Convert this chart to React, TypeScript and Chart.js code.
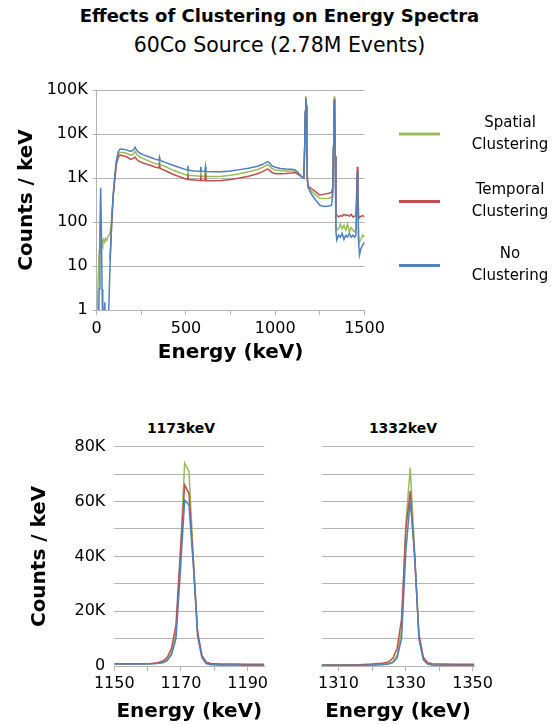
import { useEffect, useRef } from "react";
import { Chart, registerables } from "chart.js";

Chart.register(...registerables);

const FONT = "'DejaVu Sans', Verdana, sans-serif";
const GRID = "#b4b4b4";
const GREEN = "#9bbb59";
const RED = "#c0504d";
const BLUE = "#4f81bd";

const SERIES_NAMES = ["Spatial Clustering", "Temporal Clustering", "No Clustering"];
const LEGEND_LINES = [["Spatial", "Clustering"], ["Temporal", "Clustering"], ["No", "Clustering"]];

// ---------- full spectrum (top) ----------
const TOP_Y_TICKS = [1, 10, 100, 1000, 10000, 100000];
const TOP_X_TICKS = [0, 250, 500, 750, 1000, 1250, 1500];
const TOP_X_LABELS = [0, 500, 1000, 1500];

const E_TOP = [
  0, 5, 10, 14, 18, 22, 26, 30, 34, 40, 45, 50, 56, 62, 68, 74, 80, 86, 92, 100,
  110, 120, 130, 150, 170, 190, 205, 215, 225, 240, 260, 280, 300, 330, 348, 352, 356, 380, 420, 460,
  500, 508, 511, 514, 550, 580, 583, 586, 606, 609, 612, 650, 700, 750, 800, 850, 900, 930, 955, 965,
  980, 1000, 1030, 1060, 1090, 1110, 1130, 1150, 1160, 1165, 1168, 1171, 1174, 1177, 1180, 1185, 1200, 1225, 1250, 1275,
  1300, 1315, 1322, 1326, 1329, 1331, 1333, 1336, 1340, 1345, 1355, 1365, 1375, 1385, 1395, 1405, 1415, 1425, 1435, 1445,
  1452, 1457, 1460, 1463, 1467, 1472, 1480, 1490, 1500,
];
const SPATIAL_TOP = [
  0.5, 2, 8, 22, 30, 34, 28, 38, 32, 40, 35, 42, 38, 45, 50, 55, 80, 160, 380, 900,
  2200, 3400, 3800, 3800, 3600, 3300, 3500, 4000, 3400, 3000, 2750, 2550, 2350, 2100, 2050, 2400, 2000, 1850, 1550, 1350,
  1180, 1160, 1450, 1150, 1120, 1100, 1400, 1100, 1090, 1400, 1080, 1080, 1100, 1150, 1250, 1380, 1550, 1750, 2000, 1950,
  1650, 1520, 1480, 1450, 1450, 1450, 1250, 1050, 1000, 5500, 34000, 74000, 48000, 6000, 950, 630, 510, 420, 345, 340,
  345, 360, 500, 5200, 36000, 72000, 45000, 3200, 90, 66, 70, 90, 70, 85, 65, 90, 60, 75, 65, 60,
  70, 400, 1500, 400, 45, 35, 40, 50, 45,
];
const TEMPORAL_TOP = [
  null, null, null, null, null, null, null, null, null, null, null, null, null, null, null, 14, 40, 130, 350, 800,
  2000, 2900, 3300, 3200, 3000, 2650, 2800, 3000, 2600, 2350, 2200, 2050, 1950, 1750, 1700, 2000, 1650, 1500, 1250, 1080,
  950, 930, 1200, 920, 900, 880, 1150, 880, 875, 1150, 870, 870, 880, 920, 1000, 1100, 1250, 1400, 1600, 1550,
  1350, 1250, 1250, 1270, 1300, 1330, 1200, 1050, 1000, 5200, 32000, 66000, 44000, 5500, 950, 650, 585, 490, 410, 430,
  450, 470, 600, 5100, 33000, 63000, 42000, 3100, 160, 145, 130, 140, 135, 150, 140, 145, 135, 150, 130, 135,
  140, 600, 1800, 500, 140, 125, 135, 140, 130,
];
const NONE_TOP = [
  0.5, 0.5, 0.5, 3, 60, 600, 80, 3, 0.5, 0.5, 1.5, 0.5, 0.5, 0.5, 1.2, 8, 40, 150, 400, 1000,
  2400, 3900, 4500, 4500, 4300, 4000, 4300, 5000, 4200, 3700, 3400, 3150, 2950, 2650, 2550, 3000, 2500, 2300, 2000, 1750,
  1550, 1520, 1900, 1500, 1450, 1420, 1800, 1420, 1400, 1800, 1400, 1380, 1390, 1450, 1550, 1660, 1850, 2050, 2350, 2300,
  1900, 1750, 1650, 1600, 1580, 1550, 1300, 1050, 1000, 5000, 30000, 62000, 40000, 5000, 900, 600, 450, 320, 240, 225,
  230, 240, 400, 5000, 30000, 60000, 40000, 3000, 60, 39, 50, 45, 55, 40, 50, 45, 55, 45, 50, 45,
  50, 300, 1300, 300, 35, 18, 25, 30, 35,
];

// ---------- 1173 keV peak ----------
const Y_ZOOM_TICKS = [0, 10000, 20000, 30000, 40000, 50000, 60000, 70000, 80000];
const Y_ZOOM_LABELS = [0, 20000, 40000, 60000, 80000];
const X_1173_TICKS = [1150, 1160, 1170, 1180, 1190];
const X_1173_LABELS = [1150, 1170, 1190];
const E_1173 = [1150, 1154, 1158, 1161, 1163, 1164.6, 1165.9, 1167.2, 1168.5, 1169.8, 1171.1, 1172.4, 1173.7, 1175.0, 1176.3, 1177.6, 1178.9, 1182, 1186, 1190, 1195];
const SPATIAL_1173 = [800, 750, 800, 850, 1000, 1400, 2400, 5000, 12000, 40000, 74000, 71000, 40000, 11000, 3000, 1000, 600, 500, 450, 400, 350];
const TEMPORAL_1173 = [800, 800, 850, 950, 1200, 1800, 3200, 6500, 15000, 41000, 66000, 63000, 38000, 12500, 3800, 1400, 900, 750, 700, 650, 650];
const NONE_1173 = [750, 700, 750, 800, 900, 1200, 2000, 4200, 10000, 34000, 60500, 58700, 37000, 11000, 3000, 900, 500, 400, 350, 300, 250];

// ---------- 1332 keV peak ----------
const X_1332_TICKS = [1310, 1320, 1330, 1340, 1350];
const X_1332_LABELS = [1310, 1330, 1350];
const E_1332 = [1305, 1310, 1315, 1320, 1323, 1324.9, 1326.2, 1327.5, 1328.8, 1330.1, 1331.4, 1332.7, 1334.0, 1335.3, 1336.6, 1338, 1341, 1345, 1350.5];
const SPATIAL_1332 = [300, 300, 350, 400, 600, 900, 1600, 4000, 13000, 52000, 72300, 42000, 10000, 2500, 900, 500, 400, 350, 300];
const TEMPORAL_1332 = [350, 350, 400, 700, 1000, 1500, 2800, 6500, 17000, 50000, 63800, 40000, 11500, 3200, 1200, 800, 700, 650, 600];
const NONE_1332 = [250, 250, 300, 350, 500, 700, 1200, 3000, 10000, 42000, 60400, 41000, 10000, 2200, 700, 400, 300, 280, 250];

const pts = (xs: number[], ys: (number | null)[]) => xs.map((x, i) => ({ x, y: ys[i] }));
const fmtK = (v: number) => (v >= 1000 ? v / 1000 + "K" : String(v));

function datasets(xs: number[], g: (number | null)[], r: (number | null)[], b: (number | null)[], width: number) {
  return [
    { label: SERIES_NAMES[0], data: pts(xs, g), borderColor: GREEN, order: 2 },
    { label: SERIES_NAMES[1], data: pts(xs, r), borderColor: RED, order: 1 },
    { label: SERIES_NAMES[2], data: pts(xs, b), borderColor: BLUE, order: 0 },
  ].map((d) => ({ ...d, borderWidth: width, pointRadius: 0, tension: 0, fill: false, spanGaps: false }));
}

const sideLegend = {
  id: "sideLegend",
  afterDraw(chart: any, _a: any, opts: any) {
    const { ctx } = chart;
    ctx.save();
    const ds = chart.data.datasets;
    opts.rows.forEach((y: number, i: number) => {
      ctx.strokeStyle = ds[i].borderColor;
      ctx.lineWidth = 3;
      ctx.beginPath();
      ctx.moveTo(opts.lineX0, y);
      ctx.lineTo(opts.lineX1, y);
      ctx.stroke();
      ctx.fillStyle = "#000";
      ctx.font = `15px ${FONT}`;
      ctx.textAlign = "center";
      ctx.textBaseline = "middle";
      const lines = LEGEND_LINES[i];
      lines.forEach((t, j) => ctx.fillText(t, opts.textX, y + (j - (lines.length - 1) / 2) * opts.gap));
    });
    ctx.restore();
  },
};

function topConfig(): any {
  return {
    type: "line",
    data: { datasets: datasets(E_TOP, SPATIAL_TOP, TEMPORAL_TOP, NONE_TOP, 1.5) },
    plugins: [sideLegend],
    options: {
      responsive: false,
      animation: false,
      layout: { padding: { left: 0, right: 194.5, top: 90, bottom: 0 } },
      plugins: {
        legend: { display: false },
        tooltip: { enabled: false },
        sideLegend: { rows: [134, 201.5, 265.5], lineX0: 399, lineX1: 440, textX: 510, gap: 22 },
      },
      scales: {
        x: {
          type: "linear",
          min: 0,
          max: 1500,
          afterBuildTicks: (s: any) => { s.ticks = TOP_X_TICKS.map((value) => ({ value })); },
          afterFit: (s: any) => { s.height = 70; },
          ticks: {
            autoSkip: false, maxRotation: 0, padding: 4, color: "#000",
            font: { family: FONT, size: 16 },
            callback: (v: number) => (TOP_X_LABELS.includes(v) ? String(v) : ""),
          },
          grid: { drawOnChartArea: false, drawTicks: true, tickLength: 5, color: GRID },
          border: { color: GRID },
          title: { display: true, text: "Energy (keV)", color: "#000", font: { family: FONT, size: 20, weight: "bold" }, padding: { top: 0, bottom: 15 } },
        },
        y: {
          type: "logarithmic",
          min: 1,
          max: 100000,
          afterBuildTicks: (s: any) => { s.ticks = TOP_Y_TICKS.map((value) => ({ value })); },
          afterFit: (s: any) => { s.width = 96.7; },
          ticks: { padding: 5, color: "#000", font: { family: FONT, size: 16 }, callback: (v: number) => fmtK(v) },
          grid: { color: GRID, tickLength: 4 },
          border: { color: GRID },
          title: { display: true, text: "Counts / keV", color: "#000", font: { family: FONT, size: 20, weight: "bold" }, padding: { top: 15, bottom: 0 } },
        },
      },
    },
  };
}

function zoomConfig(xs: number[], g: number[], r: number[], b: number[], xMin: number, xMax: number,
  xTicks: number[], xLabels: number[], showY: boolean, yWidth: number, rightPad: number): any {
  return {
    type: "line",
    data: { datasets: datasets(xs, g, r, b, 1.5) },
    options: {
      responsive: false,
      animation: false,
      layout: { padding: { left: 0, right: rightPad, top: 51.7, bottom: 0 } },
      plugins: { legend: { display: false }, tooltip: { enabled: false } },
      scales: {
        x: {
          type: "linear",
          min: xMin,
          max: xMax,
          afterBuildTicks: (s: any) => { s.ticks = xTicks.map((value) => ({ value })); },
          afterFit: (s: any) => { s.height = 58; },
          ticks: {
            autoSkip: false, maxRotation: 0, padding: 3, color: "#000",
            font: { family: FONT, size: 16 },
            callback: (v: number) => (xLabels.includes(v) ? String(v) : ""),
          },
          grid: { drawOnChartArea: false, drawTicks: true, tickLength: 5, color: GRID },
          border: { color: GRID },
          title: { display: true, text: "Energy (keV)", color: "#000", font: { family: FONT, size: 20, weight: "bold" }, padding: { top: 0, bottom: 0 } },
        },
        y: {
          type: "linear",
          min: 0,
          max: 80000,
          afterBuildTicks: (s: any) => { s.ticks = Y_ZOOM_TICKS.map((value) => ({ value })); },
          afterFit: (s: any) => { s.width = yWidth; },
          ticks: {
            display: showY, padding: 9, color: "#000", font: { family: FONT, size: 16 },
            callback: (v: number) => (Y_ZOOM_LABELS.includes(v) ? fmtK(v) : ""),
          },
          grid: { color: GRID, drawTicks: false },
          border: { display: false },
          title: { display: showY, text: "Counts / keV", color: "#000", font: { family: FONT, size: 20, weight: "bold" }, padding: { top: 27.3, bottom: 0 } },
        },
      },
    },
  };
}

function ChartBox({ left, top, width, height, make }: { left: number; top: number; width: number; height: number; make: () => any }) {
  const ref = useRef<HTMLCanvasElement>(null);
  useEffect(() => {
    const chart = new Chart(ref.current as HTMLCanvasElement, make());
    return () => chart.destroy();
  }, []);
  return (
    <canvas ref={ref} width={width} height={height}
      style={{ position: "absolute", left, top, width, height, display: "block" }} />
  );
}

const textStyle = (left: number, top: number, width: number, size: number, bold: boolean): any => ({
  position: "absolute", left, top, width, textAlign: "center", fontFamily: FONT,
  fontSize: size, lineHeight: `${size}px`, fontWeight: bold ? "bold" : "normal", color: "#000", whiteSpace: "nowrap",
});

export default function App() {
  return (
    <div style={{ position: "fixed", left: 0, top: 0, width: 559, height: 724, background: "#fff", overflow: "hidden" }}>
      <div style={textStyle(0, 7.3, 559, 18, true)}>Effects of Clustering on Energy Spectra</div>
      <div style={textStyle(0, 34.8, 559, 20.5, false)}>60Co Source (2.78M Events)</div>
      <ChartBox left={0} top={0} width={559} height={380} make={topConfig} />
      <div style={textStyle(131, 421.2, 100, 14, true)}>1173keV</div>
      <div style={textStyle(353, 421.2, 100, 14, true)}>1332keV</div>
      <ChartBox left={0} top={395} width={280} height={329}
        make={() => zoomConfig(E_1173, SPATIAL_1173, TEMPORAL_1173, NONE_1173, 1150, 1195, X_1173_TICKS, X_1173_LABELS, true, 114.3, 15.7)} />
      <ChartBox left={280} top={395} width={279} height={329}
        make={() => zoomConfig(E_1332, SPATIAL_1332, TEMPORAL_1332, NONE_1332, 1305, 1350.5, X_1332_TICKS, X_1332_LABELS, false, 41.7, 84.7)} />
    </div>
  );
}
